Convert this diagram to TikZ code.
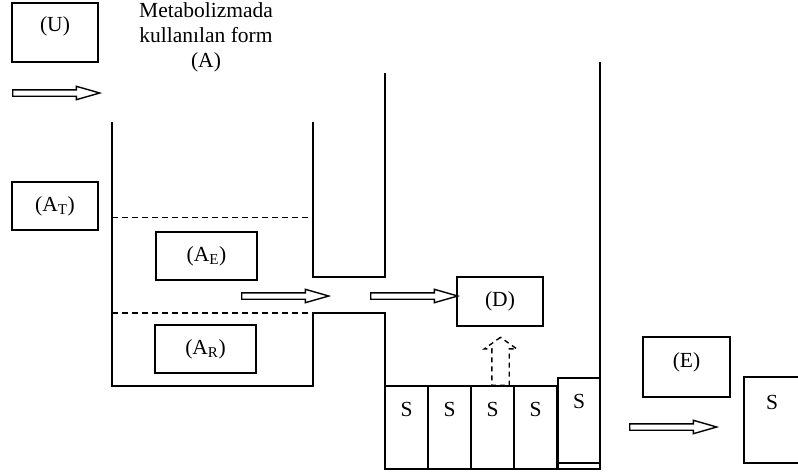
\documentclass[tikz,border=0pt]{standalone}
\usepackage{fontspec}
\setmainfont{Liberation Serif}
\usetikzlibrary{shapes.arrows}
\tikzset{
  every node/.style={font=\fontsize{21.5}{25}\selectfont},
  box/.style={draw, line width=1.5pt, inner sep=0pt, text height=15pt, text depth=5pt},
  cell/.style={box, minimum width=43pt, minimum height=83pt, text depth=37pt},
  wall/.style={line width=1.5pt},
  level/.style={line width=1.3pt, dash pattern=on 6pt off 4pt},
  flow/.style={single arrow, draw, line width=1.4pt, inner xsep=0pt, inner ysep=2.5pt,
    minimum width=0pt, single arrow head extend=3.5pt, single arrow tip angle=32,
    single arrow head indent=0pt, minimum height=87pt, anchor=tail},
}
\begin{document}
\begin{tikzpicture}[x=1pt,y=-1pt]
	\useasboundingbox (0,0) rectangle (798,472);
	% left side
	\node[box, minimum width=86pt, minimum height=59pt, text depth=17pt] (u) at (55,32.5) {(U)};
	\node[flow] (inflow) at (12,93) {};
	\node[align=center] (form) at (206,37) {Metabolizmada\\kullan\i lan form\\(A)};
	\node[box, minimum width=86pt, minimum height=48pt] (at) at (55,206) {(A\textsubscript{T})};
	% tank
	\draw[wall] (112,122) -- (112,386) -- (313,386) -- (313,313) -- (385,313) -- (385,469);
	\draw[wall] (313,122) -- (313,277) -- (385,277) -- (385,73);
	\draw[wall] (600,62) -- (600,469);
	\draw[level] (112,217.5) -- (313,217.5);
	\draw[level] (112,313) -- (313,313);
	\node[box, minimum width=101pt, minimum height=48pt] (ae) at (206.5,256) {(A\textsubscript{E})};
	\node[box, minimum width=101pt, minimum height=48pt] (ar) at (205.5,349) {(A\textsubscript{R})};
	\node[flow] (outflow) at (241,296) {};
	\node[flow] (toD) at (370,296) {};
	\node[box, minimum width=86pt, minimum height=49pt] (d) at (500,301.5) {(D)};
	% storage row
	\foreach \i in {0,...,3}
		\node[cell] (s\i) at (406.5+43*\i,427.5) {S};
	\node[box, minimum width=42pt, minimum height=91pt, text depth=45pt] (s4) at (579,423.5) {S};
	\draw[wall] ([yshift=7pt]s4.south west) -- ([yshift=7pt]s4.south east);
	\node[flow, rotate=90, dash pattern=on 5pt off 4pt, inner ysep=8pt, single arrow head extend=7.5pt,
		single arrow tip angle=109, minimum height=48pt] (release) at (500.5,386) {};
	% right side
	\node[box, minimum width=87pt, minimum height=60pt, text depth=14pt] (e) at (686.5,367) {(E)};
	\node[flow] (outS) at (629,427) {};
	\node[box, minimum width=56pt, minimum height=86pt, text depth=36pt] (sx) at (772,420) {S};
\end{tikzpicture}
\end{document}
